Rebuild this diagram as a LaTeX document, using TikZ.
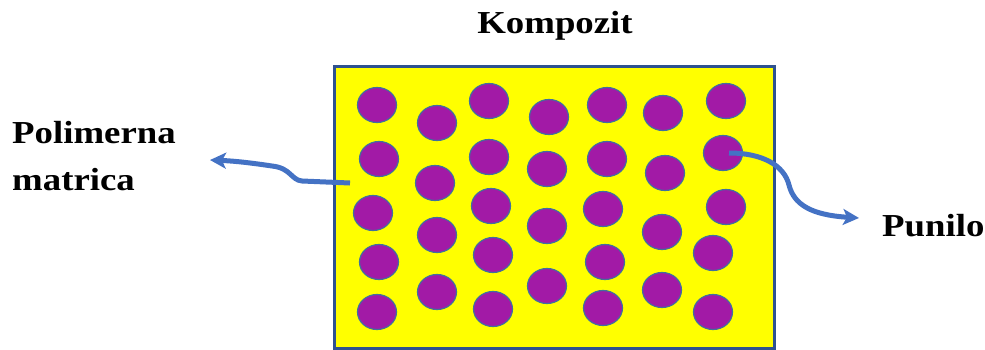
\documentclass[tikz,border=0pt]{standalone}
\usepackage{fontspec}
\setmainfont{Liberation Serif}[FakeStretch=1.15]
\usetikzlibrary{arrows.meta,shapes.geometric}
\definecolor{fillyel}{HTML}{FFFF00}
\definecolor{frameblue}{HTML}{2F528F}
\definecolor{dotpurple}{HTML}{A21AA6}
\definecolor{dotedge}{HTML}{41719C}
\definecolor{arrblue}{HTML}{4472C4}
\tikzset{
  dot/.style={ellipse, draw=dotedge, line width=1.2pt, fill=dotpurple, minimum width=39pt, minimum height=35pt, inner sep=0pt},
  lbl/.style={font=\fontsize{32}{47}\selectfont\bfseries, inner sep=0pt},
  pointer/.style={draw=arrblue, line width=5pt, -{Stealth[length=16pt,width=16pt,inset=4pt]}}
}
\begin{document}
\begin{tikzpicture}[x=1pt,y=-1pt]
\useasboundingbox (0,0) rectangle (985,349);
\node[draw=frameblue, line width=3pt, fill=fillyel, minimum width=440pt, minimum height=282pt, inner sep=0pt, anchor=north west] (comp) at (333,65) {};
% column 1
\node[dot] (a1) at (377,105) {};
\node[dot] (a2) at (379,159) {};
\node[dot] (a3) at (373,213) {};
\node[dot] (a4) at (379,262) {};
\node[dot] (a5) at (377,312) {};
% column 2
\node[dot] (b1) at (437,123) {};
\node[dot] (b2) at (435,183) {};
\node[dot] (b3) at (437,235) {};
\node[dot] (b4) at (437,292) {};
% column 3
\node[dot] (c1) at (489,101) {};
\node[dot] (c2) at (489,157) {};
\node[dot] (c3) at (491,206) {};
\node[dot] (c4) at (493,255) {};
\node[dot] (c5) at (493,309) {};
% column 4
\node[dot] (d1) at (549,117) {};
\node[dot] (d2) at (547,169) {};
\node[dot] (d3) at (547,226) {};
\node[dot] (d4) at (547,286) {};
% column 5
\node[dot] (e1) at (607,105) {};
\node[dot] (e2) at (607,159) {};
\node[dot] (e3) at (603,209) {};
\node[dot] (e4) at (605,262) {};
\node[dot] (e5) at (603,308) {};
% column 6
\node[dot] (f1) at (663,113) {};
\node[dot] (f2) at (665,173) {};
\node[dot] (f3) at (662,232) {};
\node[dot] (f4) at (662,290) {};
% column 7
\node[dot] (g1) at (726,101) {};
\node[dot] (g2) at (723,153) {};
\node[dot] (g3) at (726,207) {};
\node[dot] (g4) at (713,253) {};
\node[dot] (g5) at (713,312) {};
% labels
\node[lbl, anchor=base] (title) at (555,33) {Kompozit};
\node[lbl, anchor=base west] (poly1) at (12,143) {Polimerna};
\node[lbl, anchor=base west] (poly2) at (12,190) {matrica};
\node[lbl, anchor=base west] (fill) at (882,236) {Punilo};
% arrows
\coordinate (lstart) at (350,183);
\coordinate (lend) at (210,160);
\coordinate (rstart) at (729,153);
\coordinate (rend) at (859,218);
\draw[pointer] (lstart) -- (302,181) .. controls (291,180) and (291,168) .. (272,166) .. controls (252,163) and (235,161) .. (lend);
\draw[pointer] (rstart) .. controls (762,153) and (784,165) .. (789,185) .. controls (794,205) and (812,215) .. (rend);
\end{tikzpicture}
\end{document}
